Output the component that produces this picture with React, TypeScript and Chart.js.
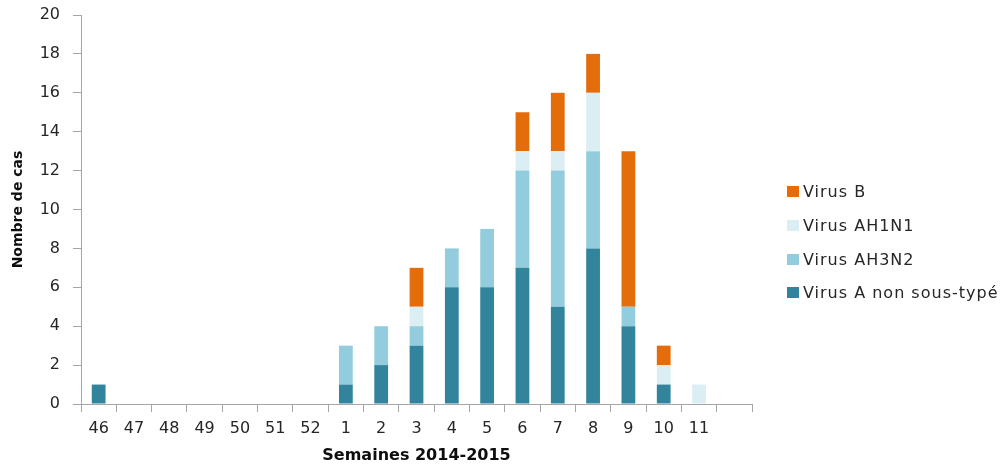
import React, { useEffect, useRef } from "react";
import { Chart, registerables } from "chart.js";

Chart.register(...registerables);

const weeks = ["46", "47", "48", "49", "50", "51", "52", "1", "2", "3", "4", "5", "6", "7", "8", "9", "10", "11", ""];
const virusANonSousType = [1, 0, 0, 0, 0, 0, 0, 1, 2, 3, 6, 6, 7, 5, 8, 4, 1, 0, 0];
const virusAH3N2 = [0, 0, 0, 0, 0, 0, 0, 2, 2, 1, 2, 3, 5, 7, 5, 1, 0, 0, 0];
const virusAH1N1 = [0, 0, 0, 0, 0, 0, 0, 0, 0, 1, 0, 0, 1, 1, 3, 0, 1, 1, 0];
const virusB = [0, 0, 0, 0, 0, 0, 0, 0, 0, 2, 0, 0, 2, 3, 2, 8, 1, 0, 0];

const seriesNames = ["Virus A non sous-typé", "Virus AH3N2", "Virus AH1N1", "Virus B"];
const seriesColors = ["#31849B", "#93CDDD", "#DAEEF3", "#E46C0A"];

const FONT = "'DejaVu Sans', sans-serif";
const AXIS_GRAY = "#A6A6A6";

export default function App() {
  const canvasRef = useRef<HTMLCanvasElement | null>(null);

  useEffect(() => {
    const canvas = canvasRef.current;
    if (!canvas) return;
    const seriesValues = [virusANonSousType, virusAH3N2, virusAH1N1, virusB];
    const chart = new Chart(canvas, {
      type: "bar",
      data: {
        labels: weeks,
        datasets: seriesValues.map((vals, i) => ({
          label: seriesNames[i],
          data: vals,
          backgroundColor: seriesColors[i],
          borderWidth: 0,
          categoryPercentage: 0.39,
          barPercentage: 1,
        })),
      },
      options: {
        responsive: false,
        animation: false,
        devicePixelRatio: 1,
        layout: { padding: { top: 15, right: 253, bottom: 0, left: 0 } },
        plugins: {
          legend: { display: false },
          tooltip: { enabled: false },
        },
        scales: {
          x: {
            stacked: true,
            grid: {
              offset: true,
              drawOnChartArea: false,
              drawTicks: true,
              tickLength: 8,
              color: AXIS_GRAY,
            },
            border: { color: AXIS_GRAY, width: 1 },
            ticks: {
              font: { family: FONT, size: 16 },
              color: "#262626",
              padding: 7,
              maxRotation: 0,
              autoSkip: false,
            },
            title: {
              display: true,
              text: "Semaines 2014-2015",
              font: { family: FONT, size: 16, weight: "bold" },
              color: "#0D0D0D",
              padding: { top: 0, bottom: 3 },
            },
            afterFit: (scale: any) => {
              scale.height = 64;
              scale.paddingLeft = 0;
              scale.paddingRight = 0;
            },
          },
          y: {
            stacked: true,
            min: 0,
            max: 20,
            ticks: {
              stepSize: 2,
              font: { family: FONT, size: 16 },
              color: "#262626",
              padding: 13,
            },
            grid: {
              drawOnChartArea: false,
              drawTicks: true,
              tickLength: 8,
              color: AXIS_GRAY,
            },
            border: { color: AXIS_GRAY, width: 1 },
            title: {
              display: true,
              text: "Nombre de cas",
              font: { family: FONT, size: 14, weight: "bold" },
              color: "#0D0D0D",
              padding: { top: 10, bottom: 0 },
            },
            afterFit: (scale: any) => {
              scale.width = 81;
              scale.paddingTop = 0;
              scale.paddingBottom = 0;
            },
          },
        },
      },
    });
    return () => chart.destroy();
  }, []);

  const legendOrder = [3, 2, 1, 0];

  return (
    <div style={{ position: "absolute", left: 0, top: 0, width: 1005, height: 468, background: "#fff" }}>
      <canvas ref={canvasRef} width={1005} height={468} style={{ display: "block" }} />
      <div
        style={{
          position: "absolute",
          left: 787,
          top: 175,
          display: "flex",
          flexDirection: "column",
          fontFamily: FONT,
          fontSize: 16,
          letterSpacing: "1px",
          color: "#262626",
        }}
      >
        {legendOrder.map((i) => (
          <div key={i} style={{ height: 33.7, display: "flex", alignItems: "center", whiteSpace: "nowrap" }}>
            <span
              style={{
                display: "inline-block",
                width: 12,
                height: 11,
                background: seriesColors[i],
                marginRight: 4,
              }}
            />
            <span>{seriesNames[i]}</span>
          </div>
        ))}
      </div>
    </div>
  );
}
